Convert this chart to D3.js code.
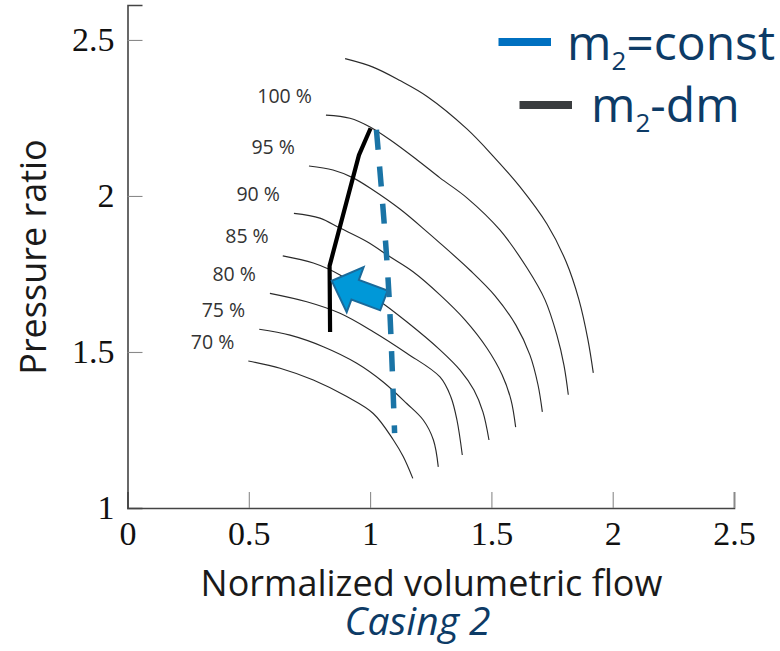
<!DOCTYPE html>
<html>
<head>
<meta charset="utf-8">
<script src="https://cdn.jsdelivr.net/npm/d3@7"></script>
<style>
  html, body { margin: 0; padding: 0; background: #ffffff; }
  svg { display: block; }
</style>
</head>
<body>
<svg id="chart" width="780" height="651"></svg>
<script>
// ---- Compressor map data: speed lines (normalized volumetric flow, pressure ratio) ----
const line105 = [[0.897,2.440],[1.012,2.413],[1.123,2.370],[1.235,2.319],[1.399,2.215],[1.507,2.128],[1.618,2.029],[1.729,1.910],[1.808,1.789],[1.861,1.667],[1.898,1.539],[1.920,1.433]];
const line100 = [[0.818,2.259],[0.917,2.249],[1.000,2.221],[1.082,2.180],[1.193,2.116],[1.288,2.058],[1.399,1.994],[1.535,1.891],[1.647,1.769],[1.721,1.667],[1.770,1.554],[1.799,1.458],[1.817,1.363]];
const line95  = [[0.748,2.096],[0.847,2.083],[0.930,2.058],[1.012,2.019],[1.123,1.958],[1.235,1.885],[1.288,1.849],[1.412,1.762],[1.515,1.680],[1.601,1.586],[1.659,1.490],[1.692,1.395],[1.710,1.308]];
const line90  = [[0.686,1.944],[0.793,1.929],[0.876,1.897],[0.986,1.854],[1.082,1.805],[1.177,1.757],[1.288,1.683],[1.391,1.603],[1.482,1.512],[1.544,1.427],[1.581,1.346],[1.600,1.259]];
const line85  = [[0.640,1.808],[0.766,1.785],[0.876,1.747],[1.013,1.678],[1.151,1.597],[1.288,1.507],[1.371,1.442],[1.428,1.378],[1.465,1.308],[1.490,1.218]];
const line80  = [[0.587,1.688],[0.739,1.661],[0.876,1.624],[1.013,1.565],[1.151,1.496],[1.288,1.420],[1.333,1.356],[1.358,1.282],[1.380,1.170]];
const line75  = [[0.543,1.573],[0.670,1.554],[0.807,1.517],[0.945,1.464],[1.054,1.404],[1.151,1.335],[1.219,1.282],[1.261,1.218],[1.281,1.132]];
const line70  = [[0.498,1.471],[0.629,1.448],[0.766,1.410],[0.904,1.357],[1.013,1.303],[1.096,1.218],[1.137,1.164],[1.176,1.095]];

const speedLines  = [line105, line100, line95, line90, line85, line80, line75, line70];
const speedLabels = ["", "100 %", "95 %", "90 %", "85 %", "80 %", "75 %", "70 %"];

// Operating paths
const pathConstMass   = [[1.026,2.212],[1.057,1.923],[1.079,1.667],[1.101,1.240]];  // m2 = const
const pathReducedMass = [[1.002,2.217],[0.954,2.131],[0.833,1.776],[0.835,1.564]];  // m2 - dm

// Shift arrow (tip and tail, in data units)
const arrowTip  = [0.842, 1.728];
const arrowTail = [1.057, 1.665];

// Axes
const xTicks = [0, 0.5, 1, 1.5, 2, 2.5];
const yTicks = [1, 1.5, 2, 2.5];
const xTickLabels = ["0", "0.5", "1", "1.5", "2", "2.5"];
const yTickLabels = ["1", "1.5", "2", "2.5"];

// Legend entries
const legendItems = [
  { base: "m", sub: "2", rest: "=const", color: "#0070c0" },
  { base: "m", sub: "2", rest: "-dm",    color: "#3a3d3f" }
];

// ---- Drawing ----
const svg = d3.select("#chart");
svg.append("rect").attr("width", 780).attr("height", 651).attr("fill", "#ffffff");

const x = d3.scaleLinear().domain([0, 2.5]).range([127.5, 734]);
const y = d3.scaleLinear().domain([1, 2.612]).range([508, 5]);

const serif = "'Liberation Serif', 'Times New Roman', serif";
const sans  = "'Open Sans', 'Noto Sans', sans-serif";

// axes with inward ticks
const xAxis = d3.axisBottom(x).tickValues(xTicks).tickSize(-16).tickPadding(10)
  .tickFormat((d, i) => xTickLabels[i]);
const yAxis = d3.axisLeft(y).tickValues(yTicks).tickSize(-15).tickPadding(13)
  .tickFormat((d, i) => yTickLabels[i]);

const gx = svg.append("g").attr("transform", `translate(0,${y(1)})`).call(xAxis);
const gy = svg.append("g").attr("transform", `translate(${x(0)},0)`).call(yAxis);

[gx, gy].forEach(g => {
  g.select(".domain").attr("stroke", "#444").attr("stroke-width", 1.6);
  g.selectAll(".tick line").attr("stroke", "#8a8a8a").attr("stroke-width", 1.1);
  g.selectAll(".tick text")
    .attr("font-family", serif).attr("font-size", 34).attr("fill", "#111");
});
// drop ticks that coincide with the other axis
gx.selectAll(".tick").filter(d => d === 0).select("line").remove();
gy.selectAll(".tick").filter(d => d === 1).select("line").remove();
gx.selectAll(".tick text").attr("dy", "0.78em");

// speed lines
const lineGen = d3.line().x(d => x(d[0])).y(d => y(d[1])).curve(d3.curveCatmullRom.alpha(0.5));

svg.append("g").selectAll("path.speed")
  .data(speedLines).enter().append("path")
  .attr("class", "speed")
  .attr("d", lineGen)
  .attr("fill", "none")
  .attr("stroke", "#2a2a2a")
  .attr("stroke-width", 1.15);

// speed labels near the start of each line
svg.append("g").selectAll("text")
  .data(speedLines.map((pts, i) => ({ pts, label: speedLabels[i] })).filter(d => d.label))
  .enter().append("text")
  .attr("x", d => x(d.pts[0][0]) - 14)
  .attr("y", d => y(d.pts[0][1]) - 12.5)
  .attr("text-anchor", "end")
  .attr("font-family", sans)
  .attr("font-size", 19.5)
  .attr("fill", "#333")
  .text(d => d.label);

// reduced-mass operating path
svg.append("path")
  .attr("d", d3.line().x(d => x(d[0])).y(d => y(d[1]))(pathReducedMass))
  .attr("fill", "none").attr("stroke", "#000").attr("stroke-width", 4.2)
  .attr("stroke-linejoin", "round");

// block arrow from the constant-mass path towards the reduced-mass path
(function drawArrow() {
  const tx = x(arrowTip[0]), ty = y(arrowTip[1]);
  const bx = x(arrowTail[0]), by = y(arrowTail[1]);
  const len = Math.hypot(bx - tx, by - ty);
  const ux = (bx - tx) / len, uy = (by - ty) / len;   // back along the arrow
  const nx = -uy, ny = ux;                            // normal
  const headLen = 25, headHalf = 24, shaftHalf = 10.5;
  const p = (a, b) => [tx + ux * a + nx * b, ty + uy * a + ny * b];
  const pts = [p(0, 0), p(headLen, headHalf), p(headLen, shaftHalf), p(len, shaftHalf),
               p(len, -shaftHalf), p(headLen, -shaftHalf), p(headLen, -headHalf)];
  svg.append("polygon")
    .attr("points", pts.map(q => q.join(",")).join(" "))
    .attr("fill", "#0098d8")
    .attr("stroke", "#1a6a9a")
    .attr("stroke-width", 2)
    .attr("stroke-linejoin", "miter");
})();

// constant-mass operating path (dashed)
svg.append("path")
  .attr("d", d3.line().x(d => x(d[0])).y(d => y(d[1])).curve(d3.curveCatmullRom)(pathConstMass))
  .attr("fill", "none").attr("stroke", "#1a74a6").attr("stroke-width", 5.5)
  .attr("stroke-dasharray", "20,17");

// axis titles
svg.append("text")
  .attr("transform", `translate(46,257) rotate(-90)`)
  .attr("text-anchor", "middle")
  .attr("font-family", sans).attr("font-size", 36).attr("fill", "#1a1a1a")
  .text("Pressure ratio");

svg.append("text")
  .attr("x", 431.5).attr("y", 596)
  .attr("text-anchor", "middle")
  .attr("font-family", sans).attr("font-size", 36).attr("fill", "#1a1a1a")
  .text("Normalized volumetric flow");

svg.append("text")
  .attr("x", 417.5).attr("y", 635)
  .attr("text-anchor", "middle")
  .attr("font-family", sans).attr("font-style", "italic")
  .attr("font-size", 39).attr("fill", "#0d3b66")
  .text("Casing 2");

// legend
const legendRows = [
  { lx0: 498.5, lx1: 551, ly: 42, tx: 567, ty: 60 },
  { lx0: 519.5, lx1: 572, ly: 105, tx: 591, ty: 122 }
];
legendItems.forEach((item, i) => {
  const r = legendRows[i];
  svg.append("line")
    .attr("x1", r.lx0).attr("x2", r.lx1).attr("y1", r.ly).attr("y2", r.ly)
    .attr("stroke", item.color).attr("stroke-width", 8);
  const t = svg.append("text")
    .attr("x", r.tx).attr("y", r.ty)
    .attr("font-family", sans).attr("font-size", 48).attr("fill", "#0d3b66");
  t.append("tspan").text(item.base);
  t.append("tspan").attr("font-size", 26).attr("dy", 10).text(item.sub);
  t.append("tspan").attr("dy", -10).text(item.rest);
});
</script>
</body>
</html>
